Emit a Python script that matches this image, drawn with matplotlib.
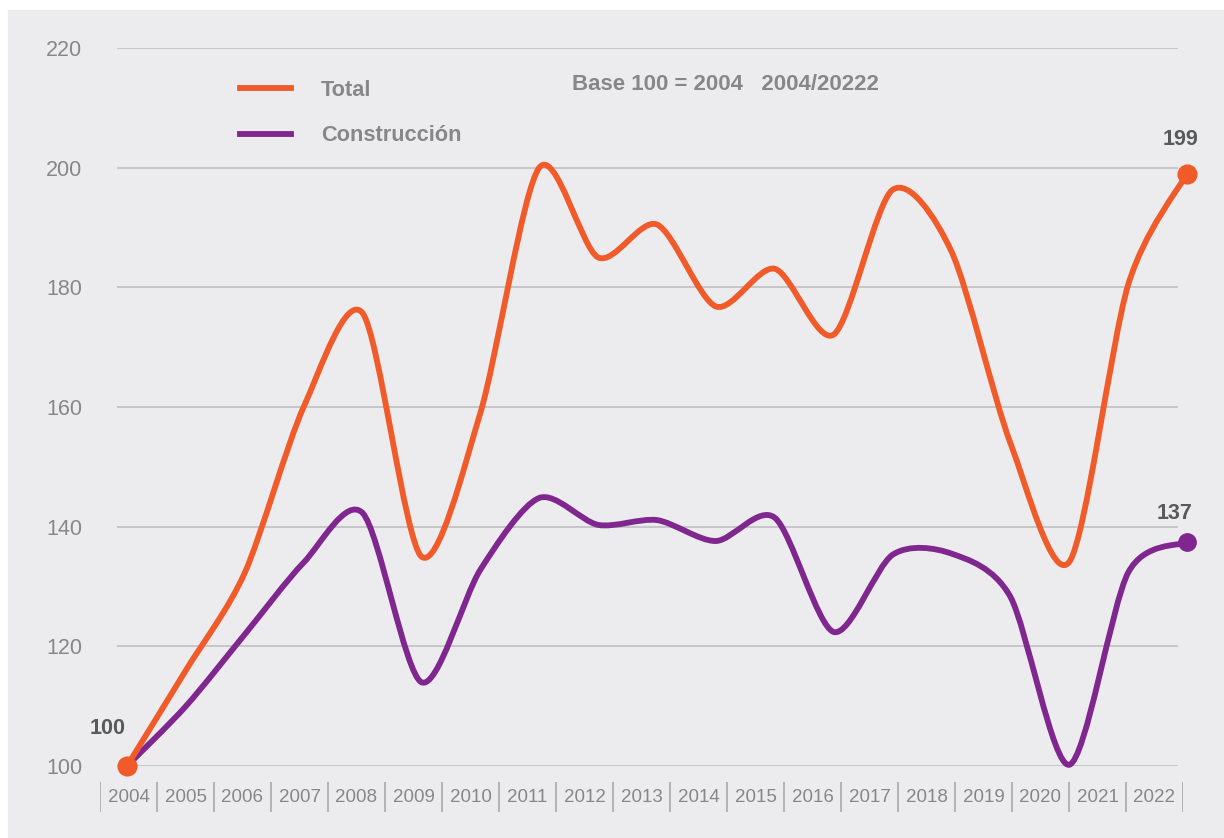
import numpy as np
import matplotlib
matplotlib.use("Agg")
import matplotlib.pyplot as plt
from matplotlib.path import Path
from matplotlib.patches import PathPatch, Rectangle

plt.rcParams['font.family'] = ['Liberation Sans', 'DejaVu Sans']

#############################################################

years = list(range(2004, 2023))
total = [100, 116, 132.3, 160, 175.7, 135, 159, 200, 185, 190.5, 176.8,
         183.1, 172.1, 196.3, 186, 154, 134.1, 180.4, 199]
construccion = [100, 110, 122, 134, 142.3, 114, 132.8, 144.8, 140.3, 141.1,
                137.6, 141.5, 122.4, 135.3, 135.5, 128.3, 100.2, 132.3, 137.4]
y_ticks = [100, 120, 140, 160, 180, 200, 220]

ORANGE = '#f15a29'
PURPLE = '#7f268f'
BG = '#ececee'
GRID = '#bdbdbe'
TXT = '#878787'
DARK = '#58595b'

W, H = 1224, 838


def px(x0, y0, x1, y1):
    # figure rect from pixel box (top-left origin)
    return [x0 / W, 1 - y1 / H, (x1 - x0) / W, (y1 - y0) / H]


def smooth_path(xs, ys, k=0.42):
    # cardinal spline through the points, as cubic bezier segments
    P = np.column_stack([xs, ys]).astype(float)
    E = np.vstack([P[0], P, P[-1]])
    verts = [P[0]]
    codes = [Path.MOVETO]
    for i in range(len(P) - 1):
        p0, p1, p2, p3 = E[i], E[i + 1], E[i + 2], E[i + 3]
        m1 = k * (p2 - p0)
        m2 = k * (p3 - p1)
        verts += [p1 + m1 / 3, p2 - m2 / 3, p2]
        codes += [Path.CURVE4] * 3
    return Path(verts, codes)


fig = plt.figure(figsize=(W / 100, H / 100), dpi=100, facecolor='white')
fig.patches.append(Rectangle((8 / W, 0), 1 - 8 / W, 1 - 10 / H,
                             transform=fig.transFigure, color=BG, zorder=-10))

# main plot area: gridlines span x 117..1178, y 100 -> 766px, 220 -> 48px
ax = fig.add_axes(px(117, 48, 1178, 766))
ax.set_facecolor('none')
idx = np.arange(len(years))
step = 1060 / 18
ax.set_xlim(-10 / step, -10 / step + 1061 / step)
ax.set_ylim(100, 220)
ax.set_yticks(y_ticks)
ax.tick_params(axis='y', length=0, pad=25, labelsize=15.5, labelcolor=TXT)
ax.set_xticks([])
for s in ax.spines.values():
    s.set_visible(False)
ax.yaxis.grid(True, color=GRID, lw=1.1)
ax.set_axisbelow(True)

for vals, col, ms in [(construccion, PURPLE, 12.5), (total, ORANGE, 13.5)]:
    ax.add_patch(PathPatch(smooth_path(idx, vals), fill=False, edgecolor=col,
                           lw=4.2, capstyle='round', joinstyle='round',
                           clip_on=False, zorder=3))
    ax.plot([idx[0], idx[-1]], [vals[0], vals[-1]], 'o', color=col,
            ms=ms, clip_on=False, zorder=4)

# legend
ax.plot([], [], color=ORANGE, lw=4.2, label='Total')
ax.plot([], [], color=PURPLE, lw=4.2, label='Construcción')
leg = ax.legend(loc='center left', bbox_to_anchor=(240 / W, 1 - 113 / H),
                bbox_transform=fig.transFigure, frameon=False,
                prop={'size': 15.7, 'weight': 'bold'}, handlelength=2.35,
                handletextpad=1.35, labelspacing=1.12, borderpad=0,
                borderaxespad=0)
for t in leg.get_texts():
    t.set_color(TXT)

fig.text(572 / W, 1 - 85 / H, 'Base 100 = 2004   2004/20222', ha='left',
         va='center', fontsize=16, fontweight='bold', color=TXT)

# value labels
lab = dict(textcoords='offset pixels', ha='center', va='center',
           fontsize=15.5, fontweight='bold', color=DARK, annotation_clip=False)
ax.annotate(f'{total[0]:.0f}', (idx[0], total[0]), xytext=(-19, 38), **lab)
ax.annotate(f'{total[-1]:.0f}', (idx[-1], total[-1]), xytext=(-6, 34), **lab)
ax.annotate(f'{construccion[-1]:.0f}', (idx[-1], construccion[-1]),
            xytext=(-12, 29), **lab)

# year strip with separators
axb = fig.add_axes(px(100, 782, 1183, 812))
axb.set_xlim(-0.5, len(years) - 0.5)
axb.set_ylim(0, 1)
axb.axis('off')
axb.vlines(np.arange(len(years) + 1) - 0.5, 0, 1, color='#a9a9a9', lw=1.2)
for i, y in enumerate(years):
    axb.text(i, 0.47, str(y), ha='center', va='center', fontsize=13.5,
             color=TXT)

fig.savefig('out.png', dpi=100, facecolor='white')
